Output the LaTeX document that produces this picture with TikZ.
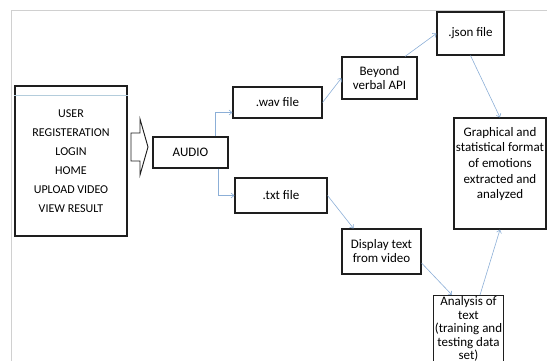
\documentclass[tikz,border=0pt]{standalone}
\usepackage{fontspec}
\setmainfont{Carlito}
\usetikzlibrary{positioning, arrows.meta}

\definecolor{linkblue}{RGB}{140,175,215}
\definecolor{framegray}{RGB}{208,208,208}
\definecolor{boxline}{RGB}{30,30,30}
\definecolor{menuline}{RGB}{180,205,220}

\begin{document}
\begin{tikzpicture}[
  x=1pt, y=-1pt,
  every node/.style={font=\fontsize{13}{14}\selectfont},
  box/.style={draw=boxline, line width=1.1pt, rectangle, align=center, inner sep=1pt},
  menu/.style={box, minimum width=112pt, minimum height=150pt, font=\fontsize{12}{19}\selectfont},
  arrow/.style={draw=linkblue, line width=0.6pt, -{Straight Barb[length=3pt,width=5pt]}}
]
\useasboundingbox (0,0) rectangle (547,361);

% Frame
\draw[framegray, line width=0.8pt] (11,361) -- (11,10) -- (547,10);

% Nodes
\node[menu] (user) at (71,161) {USER\\REGISTERATION\\LOGIN\\HOME\\UPLOAD VIDEO\\VIEW RESULT};
\draw[menuline, line width=0.8pt] ([yshift=-10]user.north west) -- ([yshift=-10]user.north east);
\node[box, minimum width=75pt, minimum height=31pt] (audio) at (190.5,152.5) {AUDIO};
\node[box, minimum width=89pt, minimum height=31pt] (wav) at (277.5,102.5) {.wav file};
\node[box, minimum width=92pt, minimum height=35pt] (txt) at (281,195.5) {.txt file};
\node[box, minimum width=75pt, minimum height=42pt] (api) at (379.5,78) {Beyond\\verbal API};
\node[box, minimum width=67pt, minimum height=43pt] (json) at (470.5,33.5) {.json file};
\node[box, minimum width=92pt, minimum height=111pt] (graph) at (500,173.5) {};
\node[align=center, font=\fontsize{13}{15.6}\selectfont] (graphtext) at ([yshift=9.5]graph.center)
  {Graphical and\\statistical format\\of emotions\\extracted and\\analyzed};
\node[box, minimum width=79pt, minimum height=45pt] (display) at (381.5,251.5) {Display text\\from video};
\node[box, minimum width=69pt, anchor=north, font=\fontsize{13}{13.6}\selectfont] (analysis) at (468.5,295)
  {Analysis of\\text\\(training and\\testing data\\set)};

% Block arrow
\draw[boxline, line width=0.9pt, fill=white] (131,133) -- (140,133) -- (140,119) -- (148,147)
  -- (140,175) -- (140,161) -- (131,161) -- cycle;

% Arrows
\draw[arrow] ([xshift=25]audio.north) |- ([yshift=-10]wav.west);
\draw[arrow] ([xshift=27.5]audio.south) |- (txt.west);
\draw[arrow] (wav.east) -- (api.west);
\draw[arrow] ([xshift=25.5]api.north) -- (json.west);
\draw[arrow] (json.south) -- (graph.north);
\draw[arrow] (txt.east) -- ([xshift=-28]display.north);
\draw[arrow] ([yshift=-11.5]display.east) -- ([xshift=-16.5]analysis.north);
\draw[arrow] ([xshift=11.5]analysis.north) -- (graph.south);

\end{tikzpicture}
\end{document}
